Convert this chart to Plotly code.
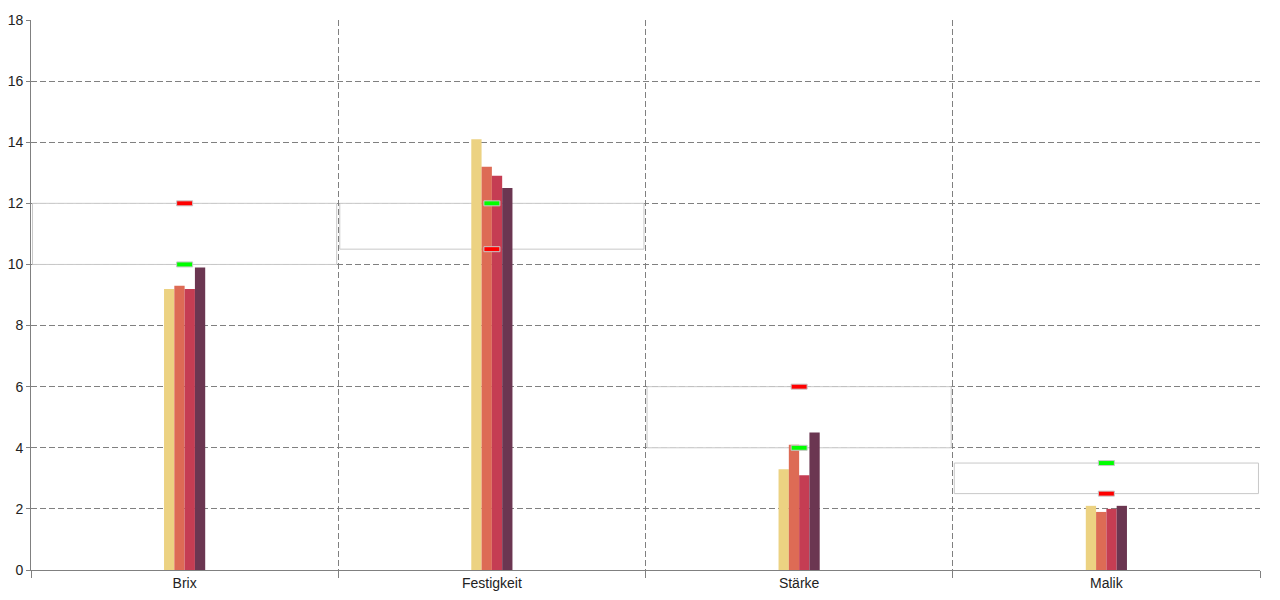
import plotly.graph_objects as go

categories = ["Brix", "Festigkeit", "Stärke", "Malik"]
series_names = ["Serie 1", "Serie 2", "Serie 3", "Serie 4"]
series_values = [
    [9.2, 14.1, 3.3, 2.1],
    [9.3, 13.2, 4.1, 1.9],
    [9.2, 12.9, 3.1, 2.0],
    [9.9, 12.5, 4.5, 2.1],
]
series_colors = ["#ECD282", "#DD6B55", "#C53D53", "#6B3651"]
green_values = [10, 12, 4, 3.5]
red_values = [12, 10.5, 6, 2.5]
y_ticks = [0, 2, 4, 6, 8, 10, 12, 14, 16, 18]

positions = list(range(len(categories)))

fig = go.Figure()
for name, vals, col in zip(series_names, series_values, series_colors):
    fig.add_trace(go.Bar(x=positions, y=vals, name=name, marker=dict(color=col, line=dict(width=0)),
                         showlegend=False))

shapes = []
# bands between green and red values
for i, (g, r) in enumerate(zip(green_values, red_values)):
    shapes.append(dict(type="rect", xref="x", yref="y", layer="between",
                       x0=i - 0.495, x1=i + 0.495, y0=min(g, r), y1=max(g, r),
                       fillcolor="white", line=dict(color="#C8C8C8", width=1)))
# markers
for i, (g, r) in enumerate(zip(green_values, red_values)):
    for v, c in ((g, "#00FF00"), (r, "#FF0000")):
        shapes.append(dict(type="rect", xref="x", yref="y", layer="above",
                           xsizemode="pixel", ysizemode="pixel", xanchor=i, yanchor=v,
                           x0=-8, x1=8, y0=-2.5, y1=2.5,
                           fillcolor=c, line=dict(color="#C8C8C8", width=1)))

grid_dash = "6px,3px"
fig.update_layout(
    width=1280, height=600,
    margin=dict(l=23, r=28, t=12, b=38),
    paper_bgcolor="white", plot_bgcolor="white",
    barmode="group", bargap=0.866, bargroupgap=0,
    font=dict(family="Liberation Sans, Arial, sans-serif", size=14, color="#222"),
    shapes=shapes,
    xaxis=dict(range=[-0.5, len(categories) - 0.5], tickmode="array",
               tickvals=[p - 0.5 for p in positions] + [len(categories) - 0.5],
               ticktext=[""] * (len(categories) + 1), automargin=False,
               ticks="outside", ticklen=7, tickcolor="#808080",
               showgrid=True, gridcolor="#808080", griddash=grid_dash, gridwidth=1,
               showline=True, linecolor="#808080", linewidth=1, zeroline=False),
    xaxis2=dict(range=[-0.5, len(categories) - 0.5], overlaying="x", side="bottom",
                tickmode="array", tickvals=positions, ticktext=categories,
                ticks="", showgrid=False, showline=False, zeroline=False, automargin=False,
                ticklabelstandoff=3, tickfont=dict(size=14, color="#222")),
    yaxis=dict(range=[0, 18], tickmode="array", tickvals=y_ticks, automargin=False,
               ticks="outside", ticklen=4, tickcolor="#808080",
               showgrid=True, gridcolor="#808080", griddash=grid_dash, gridwidth=1,
               showline=True, linecolor="#808080", linewidth=1, zeroline=False,
               tickfont=dict(size=14, color="#222")),
)
# invisible trace to activate xaxis2
fig.add_trace(go.Scatter(x=[positions[0]], y=[0], xaxis="x2", yaxis="y", mode="markers",
                         marker=dict(opacity=0), showlegend=False, hoverinfo="skip"))

fig.write_html("out.html")
